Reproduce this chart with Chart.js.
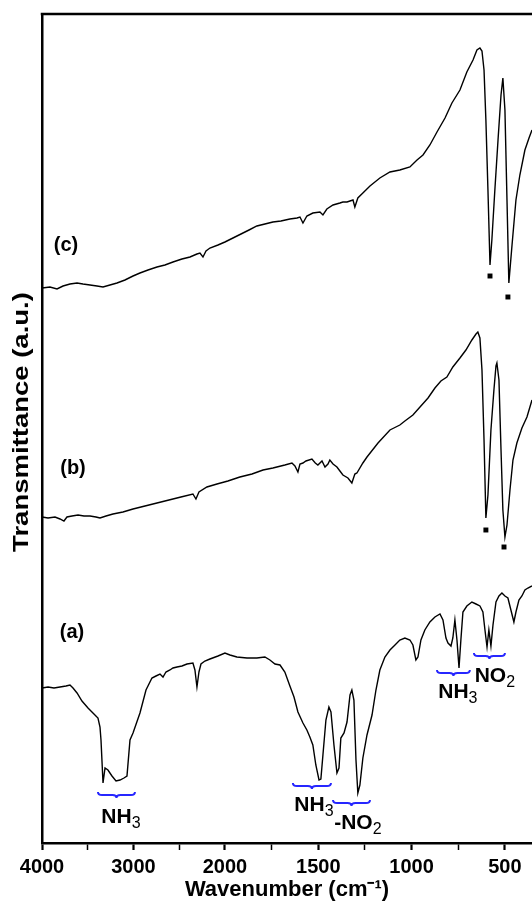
<!DOCTYPE html>
<html>
<head>
<meta charset="utf-8">
<title>IR spectra</title>
<script src="https://cdn.jsdelivr.net/npm/chart.js@4.4.0/dist/chart.umd.min.js"></script>
<style>
  body { margin: 0; background: #fff; }
  canvas { display: block; }
</style>
</head>
<body>
<canvas id="irChart" width="532" height="901"></canvas>
<script>
// spectra: wavenumber (cm-1) and transmittance (a.u.)
let waveC = [4000,3913,3836,3770,3694,3617,3552,3475,3399,3333,3257,3180,3093,3005,2929,2841,2743,2656,2568,2470,2382,2306,2273,2240,2207,2164,2076,2000,1957,1914,1871,1829,1786,1743,1700,1652,1614,1598,1582,1561,1529,1491,1475,1454,1421,1384,1368,1346,1314,1304,1288,1261,1223,1170,1116,1063,1009,971,939,902,864,821,784,741,704,671,650,634,623,612,602,591,580,570,554,537,521,511,500,489,479,462,441,420,393,371,355];
let transC = [55.5,55.6,55.4,55.7,55.9,56.0,55.9,55.8,55.7,55.6,55.8,56.0,56.3,56.7,57.0,57.3,57.6,57.8,58.1,58.4,58.6,58.9,59.0,58.6,59.2,59.5,59.8,60.1,60.5,60.9,61.3,61.7,61.9,62.1,62.2,62.4,62.5,62.6,62.0,62.7,63.0,63.1,62.8,63.4,63.8,64.0,64.1,64.1,64.3,63.6,64.5,65.0,65.7,66.5,67.1,67.3,67.6,68.3,68.8,69.8,71.1,72.5,74.0,75.3,77.1,78.3,79.3,79.5,79.2,77.3,72.3,65.3,57.8,60.3,65.3,70.3,74.8,76.5,73.3,64.3,56.0,59.8,64.3,66.8,69.3,70.5,71.3];

let waveB = [4000,3934,3858,3803,3760,3727,3672,3606,3541,3475,3410,3366,3300,3224,3115,3005,2874,2743,2612,2481,2350,2317,2284,2197,2087,1984,1920,1855,1796,1743,1679,1641,1625,1609,1598,1582,1566,1534,1516,1502,1480,1464,1448,1438,1421,1400,1384,1368,1341,1320,1304,1293,1261,1239,1180,1116,1063,1036,993,955,912,875,843,811,779,741,709,677,655,645,634,623,612,602,591,575,559,548,543,532,521,511,500,489,473,457,436,409,382,355];
let transB = [32.6,32.5,32.6,32.4,32.2,32.6,32.7,32.8,32.7,32.7,32.6,32.5,32.7,32.9,33.1,33.4,33.7,34.0,34.3,34.6,34.9,34.4,35.1,35.6,35.9,36.2,36.6,36.9,37.3,37.5,37.8,38.0,37.7,37.1,37.9,38.0,38.2,38.4,38.0,37.8,38.2,37.6,37.9,38.3,37.9,37.6,37.2,36.8,36.5,36.0,36.9,37.0,38.0,38.6,40.0,41.3,41.8,42.2,42.8,43.6,44.5,45.5,46.2,46.6,47.6,48.5,49.3,50.3,50.9,51.1,50.5,47.3,40.3,32.5,34.8,41.3,45.3,47.7,48.0,46.3,39.3,33.3,30.6,31.8,35.3,38.3,40.0,41.5,42.6,44.3];

let waveA = [4000,3934,3869,3803,3738,3694,3661,3617,3563,3497,3432,3388,3366,3355,3333,3311,3279,3235,3191,3147,3104,3071,3038,3005,2929,2863,2798,2754,2710,2677,2645,2601,2568,2524,2470,2415,2350,2328,2306,2284,2262,2219,2164,2076,2000,1973,1936,1882,1829,1786,1759,1732,1705,1679,1652,1630,1609,1582,1561,1545,1529,1513,1496,1486,1475,1459,1443,1432,1416,1400,1389,1379,1362,1346,1330,1320,1309,1298,1288,1277,1261,1239,1212,1191,1170,1143,1116,1089,1063,1036,1009,993,977,966,950,929,902,875,848,832,816,805,789,779,768,757,746,736,725,704,677,655,634,618,607,596,586,575,564,548,532,516,500,484,468,452,441,425,409,393,377,355];
let transA = [15.5,15.6,15.5,15.6,15.7,15.8,15.5,15.0,14.2,13.5,12.9,12.5,11.6,10.3,6.0,7.5,7.3,6.7,6.2,6.3,6.5,6.7,10.3,11.0,13.0,15.3,16.5,16.7,16.9,16.6,17.1,17.3,17.5,17.6,17.7,17.9,18.0,17.3,15.6,17.1,17.9,18.2,18.4,18.7,19.0,18.8,18.6,18.5,18.5,18.6,18.3,17.9,17.8,17.1,15.7,14.6,13.1,12.0,11.3,10.6,9.8,7.8,6.3,6.4,8.8,12.3,13.6,13.1,9.8,7.0,7.5,10.5,11.0,12.1,14.8,15.3,14.3,8.3,5.0,5.8,8.5,10.8,12.8,15.3,17.3,18.6,19.3,19.8,20.3,20.5,20.3,19.8,18.3,18.6,20.3,21.3,22.1,22.6,22.9,22.3,20.5,20.0,19.7,20.5,22.3,20.3,17.5,20.3,23.1,23.7,24.1,23.9,23.7,23.1,21.3,19.6,21.3,19.7,21.8,24.1,24.7,25.0,24.7,24.5,23.3,22.1,23.1,24.3,24.7,25.3,25.5,25.7];

// the black squares under the two strong bands of (b) and (c)
let markWave = [580, 484, 602, 505];
let markTrans = [56.7, 54.6, 31.3, 29.6];

// x axis ticks (left to right)
let majorTicks = [4000, 3000, 2000, 1500, 1000, 500];
let minorTicks = [3500, 2500, 1750, 1250, 750];

// the axis is squeezed above 2000 cm-1 (like most IR plots)
const BREAK = 2000;
const SQUEEZE = 0.49;
function toAxis(w) { return w > BREAK ? BREAK + (w - BREAK) * SQUEEZE : w; }
function fromAxis(u) { return u > BREAK ? BREAK + (u - BREAK) / SQUEEZE : u; }

function toPoints(waves, vals) {
  return waves.map((w, i) => ({ x: toAxis(w), y: vals[i] }));
}

// labels and band braces (positions in wavenumber / a.u.)
let sampleLabels = [
  { text: '(a)', wave: 3672, level: 21.1 },
  { text: '(b)', wave: 3661, level: 37.5 },
  { text: '(c)', wave: 3738, level: 59.8 }
];
let bands = [
  { from: 3388, to: 2984, level: 4.8, main: 'NH', sub: '3', wave: 3137, textLevel: 2.75 },
  { from: 1636, to: 1432, level: 5.7, main: 'NH', sub: '3', wave: 1523, textLevel: 4.0 },
  { from: 1421, to: 1223, level: 4.0, main: '-NO', sub: '2', wave: 1288, textLevel: 2.2 },
  { from: 864, to: 688, level: 17.0, main: 'NH', sub: '3', wave: 752, textLevel: 15.3 },
  { from: 666, to: 500, level: 18.7, main: 'NO', sub: '2', wave: 554, textLevel: 16.9 }
];

const FONT = "'Liberation Sans', Arial, sans-serif";
Chart.defaults.font.family = FONT;
Chart.defaults.color = '#000';

function drawBrace(ctx, xa, xb, yc) {
  let x0 = Math.min(xa, xb), x1 = Math.max(xa, xb);
  let xm = (x0 + x1) / 2, h = 3;
  ctx.beginPath();
  ctx.moveTo(x0, yc - h);
  ctx.quadraticCurveTo(x0, yc, x0 + 4, yc);
  ctx.lineTo(xm - 4, yc);
  ctx.quadraticCurveTo(xm, yc, xm, yc + h);
  ctx.quadraticCurveTo(xm, yc, xm + 4, yc);
  ctx.lineTo(x1 - 4, yc);
  ctx.quadraticCurveTo(x1, yc, x1, yc - h);
  ctx.stroke();
}

const decorations = {
  id: 'decorations',
  afterDatasetsDraw(chart) {
    const { ctx, chartArea, scales: { x, y } } = chart;
    ctx.save();
    // top frame
    ctx.strokeStyle = '#000';
    ctx.lineWidth = 2.5;
    ctx.beginPath();
    ctx.moveTo(chartArea.left - 1.25, chartArea.top);
    ctx.lineTo(chartArea.right, chartArea.top);
    ctx.stroke();

    // y title, a bit stretched like the original
    ctx.save();
    ctx.translate(22, 422);
    ctx.rotate(-Math.PI / 2);
    ctx.scale(1.25, 1);
    ctx.fillStyle = '#000';
    ctx.font = 'bold 22px ' + FONT;
    ctx.textAlign = 'center';
    ctx.textBaseline = 'middle';
    ctx.fillText('Transmittance (a.u.)', 0, 0);
    ctx.restore();

    // sample names
    ctx.fillStyle = '#000';
    ctx.font = 'bold 20px ' + FONT;
    ctx.textAlign = 'center';
    ctx.textBaseline = 'middle';
    sampleLabels.forEach(l => {
      ctx.fillText(l.text, x.getPixelForValue(toAxis(l.wave)), y.getPixelForValue(l.level));
    });

    // braces + band names
    ctx.textAlign = 'left';
    ctx.textBaseline = 'alphabetic';
    bands.forEach(b => {
      ctx.strokeStyle = '#2626ff';
      ctx.lineWidth = 2;
      drawBrace(ctx, x.getPixelForValue(toAxis(b.from)), x.getPixelForValue(toAxis(b.to)), y.getPixelForValue(b.level));

      ctx.font = 'bold 21px ' + FONT;
      let wMain = ctx.measureText(b.main).width;
      ctx.font = '16px ' + FONT;
      let wSub = ctx.measureText(b.sub).width;
      let cx = x.getPixelForValue(toAxis(b.wave));
      let base = y.getPixelForValue(b.textLevel) + 7.5;
      let start = cx - (wMain + wSub) / 2;
      ctx.font = 'bold 21px ' + FONT;
      ctx.fillText(b.main, start, base);
      ctx.font = '16px ' + FONT;
      ctx.fillText(b.sub, start + wMain, base + 5);
    });
    ctx.restore();
  }
};

function lineSet(label, waves, vals) {
  return {
    label: label,
    data: toPoints(waves, vals),
    borderColor: '#000',
    borderWidth: 1.4,
    pointRadius: 0,
    tension: 0,
    fill: false
  };
}

new Chart(document.getElementById('irChart'), {
  type: 'line',
  data: {
    datasets: [
      lineSet('(a)', waveA, transA),
      lineSet('(b)', waveB, transB),
      lineSet('(c)', waveC, transC),
      {
        type: 'scatter',
        label: 'marks',
        data: toPoints(markWave, markTrans),
        pointStyle: 'rect',
        pointRadius: 3.5,
        backgroundColor: '#000',
        borderWidth: 0,
        showLine: false
      }
    ]
  },
  options: {
    responsive: false,
    animation: false,
    devicePixelRatio: 1,
    layout: { autoPadding: false, padding: { top: 14, left: 42, right: 0, bottom: 0 } },
    plugins: {
      legend: { display: false },
      tooltip: { enabled: false }
    },
    scales: {
      x: {
        type: 'linear',
        reverse: true,
        min: toAxis(355),
        max: toAxis(4000),
        afterBuildTicks: scale => {
          scale.ticks = majorTicks.concat(minorTicks)
            .sort((p, q) => q - p)
            .map(w => ({ value: toAxis(w) }));
        },
        afterFit: scale => {
          // fixed band under the plot, no extra side padding
          scale.height = 58;
          scale.paddingLeft = 0;
          scale.paddingRight = 0;
        },
        ticks: {
          autoSkip: false,
          maxRotation: 0,
          padding: 6,
          color: '#000',
          font: { size: 20, weight: 'bold', lineHeight: 1.1 },
          callback: v => {
            let w = Math.round(fromAxis(v));
            return majorTicks.includes(w) ? String(w) : '';
          }
        },
        grid: {
          display: true,
          drawOnChartArea: false,
          drawTicks: true,
          tickLength: 7,
          tickColor: '#000',
          tickWidth: c => majorTicks.includes(Math.round(fromAxis(c.tick.value))) ? 2.2 : 1.5
        },
        border: { display: true, color: '#000', width: 2.5 },
        title: {
          display: true,
          text: 'Wavenumber (cm\u207B\u00B9)',
          color: '#000',
          font: { size: 22, weight: 'bold', lineHeight: 1 },
          padding: { top: 0, bottom: 0 }
        }
      },
      y: {
        min: 0,
        max: 82.9,
        ticks: { display: false },
        grid: { display: false, drawTicks: false },
        border: { display: true, color: '#000', width: 2.5 },
        title: { display: false }
      }
    }
  },
  plugins: [decorations]
});
</script>
</body>
</html>
